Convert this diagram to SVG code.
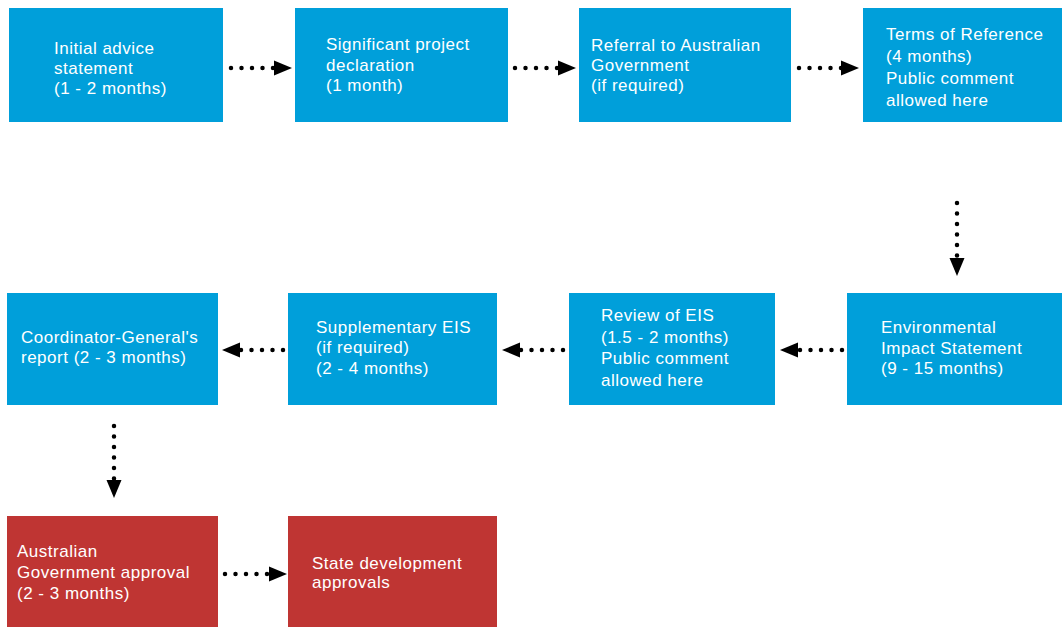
<svg xmlns="http://www.w3.org/2000/svg" width="1062" height="627" viewBox="0 0 1062 627">
<style>
.b{fill:#009FDA}
.r{fill:#BF3533}
text{font-family:"Liberation Sans",Arial,sans-serif;font-size:17px;letter-spacing:0.5px;fill:#FFFFFF}
.c{fill:none;stroke:#000;stroke-width:4.5;stroke-linecap:round;stroke-dasharray:0 10.5;marker-end:url(#ah)}
</style>
<defs>
<marker id="ah" markerUnits="userSpaceOnUse" markerWidth="18" markerHeight="15" refX="18" refY="7.5" orient="auto" overflow="visible">
<path d="M0,0 L18,7.5 L0,15 Z" fill="#000"/>
</marker>
</defs>
<rect width="1062" height="627" fill="#FFFFFF"/>
<g id="connectors">
<path class="c" d="M231,68 L292,68"/>
<path class="c" d="M515,68 L576,68"/>
<path class="c" d="M799,68 L859,68"/>
<path class="c" d="M957,203 L957,276"/>
<path class="c" d="M842,350 L780,350"/>
<path class="c" d="M563,350 L502,350"/>
<path class="c" d="M283,350 L222,350"/>
<path class="c" d="M114,426 L114,498"/>
<path class="c" d="M225,574 L287,574"/>
</g>
<g id="n1"><rect class="b" x="9" y="8" width="214" height="114"/>
<text x="54" y="54">Initial advice</text><text x="54" y="74">statement</text><text x="54" y="94">(1 - 2 months)</text></g>
<g id="n2"><rect class="b" x="295" y="8" width="213" height="114"/>
<text x="326" y="50">Significant project</text><text x="326" y="71">declaration</text><text x="326" y="91">(1 month)</text></g>
<g id="n3"><rect class="b" x="579" y="8" width="212" height="114"/>
<text x="591" y="51">Referral to Australian</text><text x="591" y="71">Government</text><text x="591" y="91">(if required)</text></g>
<g id="n4"><rect class="b" x="863" y="8" width="199" height="114"/>
<text x="886" y="40">Terms of Reference</text><text x="886" y="62">(4 months)</text><text x="886" y="84">Public comment</text><text x="886" y="106">allowed here</text></g>
<g id="n5"><rect class="b" x="847" y="293" width="215" height="112"/>
<text x="881" y="333">Environmental</text><text x="881" y="354">Impact Statement</text><text x="881" y="374">(9 - 15 months)</text></g>
<g id="n6"><rect class="b" x="569" y="293" width="206" height="112"/>
<text x="601" y="321">Review of EIS</text><text x="601" y="343">(1.5 - 2 months)</text><text x="601" y="364">Public comment</text><text x="601" y="386">allowed here</text></g>
<g id="n7"><rect class="b" x="288" y="293" width="209" height="112"/>
<text x="316" y="333">Supplementary EIS</text><text x="316" y="353">(if required)</text><text x="316" y="374">(2 - 4 months)</text></g>
<g id="n8"><rect class="b" x="7" y="293" width="211" height="112"/>
<text x="21" y="343">Coordinator-General's</text><text x="21" y="363">report (2 - 3 months)</text></g>
<g id="n9"><rect class="r" x="7" y="516" width="211" height="111"/>
<text x="17" y="557">Australian</text><text x="17" y="578">Government approval</text><text x="17" y="599">(2 - 3 months)</text></g>
<g id="n10"><rect class="r" x="288" y="516" width="209" height="111"/>
<text x="312" y="569">State development</text><text x="312" y="588">approvals</text></g>
</svg>
